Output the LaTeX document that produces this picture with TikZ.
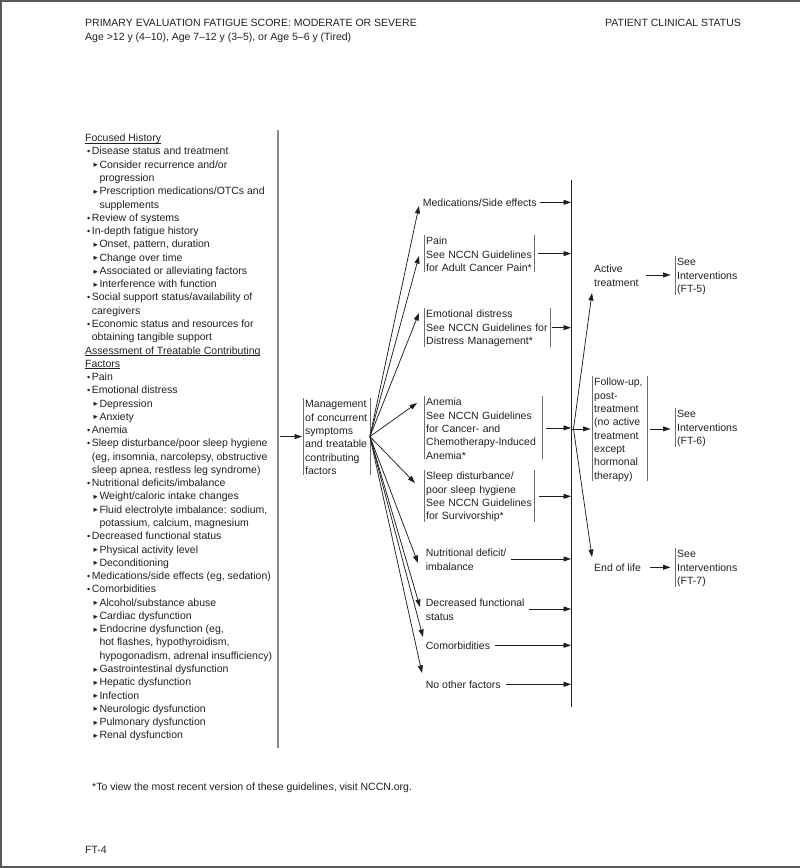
\documentclass[tikz,border=0pt]{standalone}
\usepackage{fontspec}
\setmainfont{Liberation Sans}
\newfontfamily\dejavu{DejaVu Sans}
\usetikzlibrary{arrows.meta}
\definecolor{ink}{HTML}{231F20}
\definecolor{barc}{HTML}{6D6E71}
\definecolor{brd}{HTML}{58595B}
\definecolor{vl}{HTML}{8A8B8D}
\newcommand\fs{\fontsize{10.5}{13.3}\selectfont}
\newcommand\ts{\rule{0pt}{9.3pt}}
\newcommand\mybul{\makebox[4.9pt][l]{\raisebox{0.2pt}{\fontsize{9}{9}\selectfont •}}}
\newcommand\mytri{\makebox[6pt][l]{\raisebox{0.4pt}{\dejavu\fontsize{8.5}{8.5}\selectfont ▸}}}
\newcommand\myul[1]{\setbox0\hbox{#1}\rlap{\rule[-1.8pt]{\wd0}{0.6pt}}\box0}
\begin{document}
\begin{tikzpicture}[x=1pt,y=-1pt,
  txt/.style={anchor=base west, inner sep=0pt, text=ink, font=\fs},
  box/.style={anchor=north west, inner xsep=2pt, inner ysep=0pt, align=left, text=ink, font=\fs},
  bar/.style={draw=barc, line width=0.8pt},
  arr/.style={draw=ink, line width=0.75pt, -{Triangle[length=7.5pt,width=5pt]}},
  ln/.style={draw=ink, line width=0.75pt}]
\useasboundingbox (0,0) rectangle (800,868);
% page frame
\draw[draw=brd, line width=1.5pt] (0,0.75) -- (800,0.75);
\draw[draw=brd, line width=1.5pt] (0.75,0) -- (0.75,868);
\draw[draw=brd, line width=1.5pt] (0,867) -- (800,867);
% header
\node[txt] (h1) at (85,26.7) {PRIMARY EVALUATION FATIGUE SCORE: MODERATE OR SEVERE};
\node[txt] (h2) at (85,40.5) {Age >12 y (4–10), Age 7–12 y (3–5), or Age 5–6 y (Tired)};
\node[txt] (h3) at (605,26.7) {PATIENT CLINICAL STATUS};
% left column
\begin{scope}[y=-13.27pt, shift={(0pt,-141.7pt)}]
\node[txt] (l0) at (85,0) {\myul{Focused History}};
\node[txt] (l1) at (86.8,1) {\mybul Disease status and treatment};
\node[txt] (l2) at (93.3,2) {\mytri Consider recurrence and/or};
\node[txt] (l3) at (99.3,3) {progression};
\node[txt] (l4) at (93.3,4) {\mytri Prescription medications/OTCs and};
\node[txt] (l5) at (99.3,5) {supplements};
\node[txt] (l6) at (86.8,6) {\mybul Review of systems};
\node[txt] (l7) at (86.8,7) {\mybul In-depth fatigue history};
\node[txt] (l8) at (93.3,8) {\mytri Onset, pattern, duration};
\node[txt] (l9) at (93.3,9) {\mytri Change over time};
\node[txt] (l10) at (93.3,10) {\mytri Associated or alleviating factors};
\node[txt] (l11) at (93.3,11) {\mytri Interference with function};
\node[txt] (l12) at (86.8,12) {\mybul Social support status/availability of};
\node[txt] (l13) at (91.7,13) {caregivers};
\node[txt] (l14) at (86.8,14) {\mybul Economic status and resources for};
\node[txt] (l15) at (91.7,15) {obtaining tangible support};
\node[txt] (l16) at (85,16) {\myul{Assessment of Treatable Contributing}};
\node[txt] (l17) at (85,17) {\myul{Factors}};
\node[txt] (l18) at (86.8,18) {\mybul Pain};
\node[txt] (l19) at (86.8,19) {\mybul Emotional distress};
\node[txt] (l20) at (93.3,20) {\mytri Depression};
\node[txt] (l21) at (93.3,21) {\mytri Anxiety};
\node[txt] (l22) at (86.8,22) {\mybul Anemia};
\node[txt] (l23) at (86.8,23) {\mybul Sleep disturbance/poor sleep hygiene};
\node[txt] (l24) at (91.7,24) {(eg, insomnia, narcolepsy, obstructive};
\node[txt] (l25) at (91.7,25) {sleep apnea, restless leg syndrome)};
\node[txt] (l26) at (86.8,26) {\mybul Nutritional deficits/imbalance};
\node[txt] (l27) at (93.3,27) {\mytri Weight/caloric intake changes};
\node[txt] (l28) at (93.3,28) {\mytri Fluid electrolyte imbalance: sodium,};
\node[txt] (l29) at (99.3,29) {potassium, calcium, magnesium};
\node[txt] (l30) at (86.8,30) {\mybul Decreased functional status};
\node[txt] (l31) at (93.3,31) {\mytri Physical activity level};
\node[txt] (l32) at (93.3,32) {\mytri Deconditioning};
\node[txt] (l33) at (86.8,33) {\mybul Medications/side effects (eg, sedation)};
\node[txt] (l34) at (86.8,34) {\mybul Comorbidities};
\node[txt] (l35) at (93.3,35) {\mytri Alcohol/substance abuse};
\node[txt] (l36) at (93.3,36) {\mytri Cardiac dysfunction};
\node[txt] (l37) at (93.3,37) {\mytri Endocrine dysfunction (eg,};
\node[txt] (l38) at (99.3,38) {hot flashes, hypothyroidism,};
\node[txt] (l39) at (99.3,39) {hypogonadism, adrenal insufficiency)};
\node[txt] (l40) at (93.3,40) {\mytri Gastrointestinal dysfunction};
\node[txt] (l41) at (93.3,41) {\mytri Hepatic dysfunction};
\node[txt] (l42) at (93.3,42) {\mytri Infection};
\node[txt] (l43) at (93.3,43) {\mytri Neurologic dysfunction};
\node[txt] (l44) at (93.3,44) {\mytri Pulmonary dysfunction};
\node[txt] (l45) at (93.3,45) {\mytri Renal dysfunction};
\end{scope}
% vertical lines
\coordinate (ltop) at (278,130);
\coordinate (lbot) at (278,748);
\draw[draw=vl, line width=1.4pt] (ltop) -- (lbot);
\coordinate (ctop) at (571,180);
\coordinate (cbot) at (571,707);
\draw[ln] (ctop) -- (cbot);
% management box
\node[box, text width=62.5pt] (mgmt) at (303,398.4) {\ts Management\\of concurrent\\symptoms\\and treatable\\contributing\\factors};
\draw[bar] (mgmt.north west) -- (mgmt.south west);
\draw[bar] (mgmt.north east) -- (mgmt.south east);
\draw[arr] ([xshift=2pt]mgmt.west -| ltop) -- ([xshift=-1pt]mgmt.west);
% factor nodes
\node[box] (meds) at (420.7,197.4) {\ts Medications/Side effects};
\node[box, text width=106pt] (pain) at (424,235.4) {\ts Pain\\\mbox{See NCCN Guidelines}\\\mbox{for Adult Cancer Pain*}};
\node[box, text width=122pt] (emo) at (424,308.4) {\ts Emotional distress\\\mbox{See NCCN Guidelines for}\\\mbox{Distress Management*}};
\node[box, text width=114pt] (anem) at (424,396.4) {\ts Anemia\\\mbox{See NCCN Guidelines}\\for Cancer- and\\\mbox{Chemotherapy-Induced}\\Anemia*};
\node[box, text width=106pt] (sleep) at (424,470.4) {\ts Sleep disturbance/\\poor sleep hygiene\\\mbox{See NCCN Guidelines}\\for Survivorship*};
\node[box] (nutr) at (423.7,547.4) {\ts Nutritional deficit/\\imbalance};
\node[box] (decr) at (423.7,597.4) {\ts Decreased functional\\status};
\node[box] (como) at (423.7,640.4) {\ts Comorbidities};
\node[box] (noth) at (423.7,679.4) {\ts No other factors};
\foreach \n in {pain,emo,anem,sleep}{
  \draw[bar] (\n.north west) -- (\n.south west);
  \draw[bar] (\n.north east) -- (\n.south east);
}
% fan arrows
\coordinate (t1) at (419,206);
\coordinate (t2) at (419,256);
\coordinate (t3) at (419,313);
\coordinate (t4) at (417,403);
\coordinate (t5) at (415,483);
\coordinate (t6) at (418,563);
\coordinate (t7) at (420,607);
\coordinate (t8) at (423,637);
\coordinate (t9) at (422,673);
\foreach \t in {t1,t2,t3,t4,t5,t6,t7,t8,t9}
  \draw[arr] (mgmt.east) -- (\t);
% arrows into collector
\draw[arr] ([xshift=1pt]meds.east) -- (meds.east -| ctop);
\draw[arr] ([xshift=4pt]pain.east) -- (pain.east -| ctop);
\draw[arr] ([xshift=1.5pt]emo.east) -- (emo.east -| ctop);
\draw[arr] ([xshift=4pt]anem.east) -- (anem.east -| ctop);
\draw[arr] ([xshift=5pt]sleep.east) -- (sleep.east -| ctop);
\draw[arr] ([xshift=2pt]nutr.east) -- (nutr.east -| ctop);
\draw[arr] ([xshift=2pt]decr.east) -- (decr.east -| ctop);
\draw[arr] ([xshift=3pt]como.east) -- (como.east -| ctop);
\draw[arr] ([xshift=3.5pt]noth.east) -- (noth.east -| ctop);
% clinical status
\node[box] (act) at (592,263.4) {\ts Active\\treatment};
\node[box, text width=51pt] (follow) at (592,376.4) {\ts Follow-up,\\post-\\treatment\\(no active\\treatment\\except\\hormonal\\therapy)};
\draw[bar] (follow.north west) -- (follow.south west);
\draw[bar] (follow.north east) -- (follow.south east);
\node[box] (eol) at (592,562.4) {\ts End of life};
\coordinate (br) at (follow.west -| ctop);
\coordinate (tAct) at (592,293);
\coordinate (tEol) at (592,557);
\draw[arr] (br) -- ([xshift=-1.5pt]follow.west);
\draw[arr] ([xshift=2.5pt]br) -- (tAct);
\draw[arr] ([xshift=2.5pt]br) -- (tEol);
% interventions
\node[box, text width=62pt] (see5) at (675,256.4) {\ts See\\Interventions\\(FT-5)};
\node[box, text width=62pt] (see6) at (675,408.4) {\ts See\\Interventions\\(FT-6)};
\node[box, text width=62pt] (see7) at (675,548.4) {\ts See\\Interventions\\(FT-7)};
\foreach \n in {see5,see6,see7}
  \draw[bar] (\n.north west) -- (\n.south west);
\draw[arr, shorten >=4.5pt] ([xshift=5.5pt]act.east) -- (act.east -| see5.west);
\draw[arr, shorten >=4.5pt] ([xshift=2.5pt]follow.east) -- (follow.east -| see6.west);
\draw[arr, shorten >=4.5pt] ([xshift=7pt]eol.east) -- (eol.east -| see7.west);
% footnotes
\node[txt] (fn) at (92,790.7) {*To view the most recent version of these guidelines, visit NCCN.org.};
\node[txt] (pg) at (85,853.7) {FT-4};
\end{tikzpicture}
\end{document}
